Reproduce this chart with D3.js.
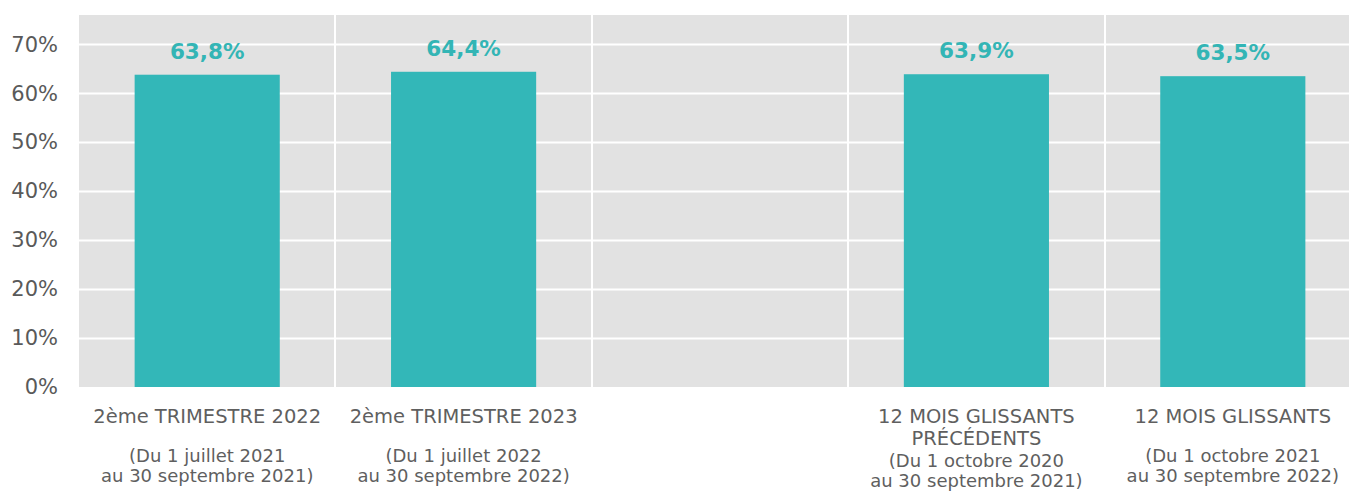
<!DOCTYPE html>
<html>
<head>
<meta charset="utf-8">
<script src="https://cdn.jsdelivr.net/npm/d3@7"></script>
<style>
  body { margin: 0; background: #fff; overflow: hidden; }
  svg { display: block; }
</style>
</head>
<body>
<svg id="chart"></svg>
<script>
// data
var categories = ["T2 2022", "T2 2023", "vide", "12M prec", "12M"];
var values = [0.638, 0.644, null, 0.639, 0.635];
var valueLabels = ["63,8%", "64,4%", "", "63,9%", "63,5%"];
var titleLines = [
  ["2ème TRIMESTRE 2022"],
  ["2ème TRIMESTRE 2023"],
  [],
  ["12 MOIS GLISSANTS", "PRÉCÉDENTS"],
  ["12 MOIS GLISSANTS"]
];
var periodLines = [
  ["(Du 1 juillet 2021", "au 30 septembre 2021)"],
  ["(Du 1 juillet 2022", "au 30 septembre 2022)"],
  [],
  ["(Du 1 octobre 2020", "au 30 septembre 2021)"],
  ["(Du 1 octobre 2021", "au 30 septembre 2022)"]
];
var yTicks = [0, 0.1, 0.2, 0.3, 0.4, 0.5, 0.6, 0.7];

var WIDTH = 1349, HEIGHT = 491,
  MARGINS = { top: 15, left: 79, bottom: 387, right: 1361 };

var vis = d3.select("#chart")
  .attr("width", WIDTH)
  .attr("height", HEIGHT);

var xRange = d3.scaleBand()
  .domain(categories)
  .range([MARGINS.left, MARGINS.right])
  .paddingInner(0)
  .paddingOuter(0);

var yRange = d3.scaleLinear()
  .domain([0, 0.76])
  .range([MARGINS.bottom, MARGINS.top]);

// grey plot background
vis.append("rect")
  .attr("x", MARGINS.left)
  .attr("y", MARGINS.top)
  .attr("width", MARGINS.right - MARGINS.left)
  .attr("height", MARGINS.bottom - MARGINS.top)
  .attr("fill", "#e2e2e2");

// horizontal grid
vis.append("g")
  .selectAll("line")
  .data(yTicks.filter(function (d) { return d > 0; }))
  .enter().append("line")
  .attr("x1", MARGINS.left)
  .attr("x2", MARGINS.right)
  .attr("y1", function (d) { return Math.round(yRange(d)) + 0.5; })
  .attr("y2", function (d) { return Math.round(yRange(d)) + 0.5; })
  .attr("stroke", "#fff")
  .attr("stroke-width", 2);

// vertical separators between the bands
vis.append("g")
  .selectAll("line")
  .data(categories.slice(1))
  .enter().append("line")
  .attr("x1", function (d) { return Math.round(xRange(d)); })
  .attr("x2", function (d) { return Math.round(xRange(d)); })
  .attr("y1", MARGINS.top)
  .attr("y2", MARGINS.bottom)
  .attr("stroke", "#fff")
  .attr("stroke-width", 2);

// y axis
var yAxis = vis.append("g")
  .attr("transform", "translate(" + (MARGINS.left - 21) + ",0)")
  .call(d3.axisLeft(yRange)
    .tickValues(yTicks)
    .tickSize(0)
    .tickPadding(0)
    .tickFormat(function (d) { return Math.round(d * 100) + "%"; }))
  .call(function (g) { g.select(".domain").remove(); });

yAxis.selectAll("text")
  .attr("fill", "#595959")
  .style("font-family", "Verdana, 'DejaVu Sans', sans-serif")
  .style("font-size", "21px");

// bars
var barW = xRange.bandwidth() * 0.566;
var idx = d3.range(categories.length).filter(function (i) { return values[i] != null; });

vis.append("g")
  .selectAll("rect")
  .data(idx)
  .enter().append("rect")
  .attr("x", function (i) { return xRange(categories[i]) + (xRange.bandwidth() - barW) / 2; })
  .attr("y", function (i) { return yRange(values[i]); })
  .attr("width", barW)
  .attr("height", function (i) { return yRange(0) - yRange(values[i]); })
  .attr("fill", "#33b7b8");

// value labels
vis.append("g")
  .selectAll("text")
  .data(idx)
  .enter().append("text")
  .attr("x", function (i) { return xRange(categories[i]) + xRange.bandwidth() / 2; })
  .attr("y", function (i) { return yRange(values[i]) - 16; })
  .attr("text-anchor", "middle")
  .attr("fill", "#33b5b5")
  .style("font-family", "Verdana, 'DejaVu Sans', sans-serif")
  .style("font-weight", "bold")
  .style("font-size", "21.5px")
  .text(function (i) { return valueLabels[i]; });

// category labels
var cat = vis.append("g")
  .selectAll("g")
  .data(idx)
  .enter().append("g")
  .attr("transform", function (i) {
    return "translate(" + (xRange(categories[i]) + xRange.bandwidth() / 2) + ",0)";
  });

cat.each(function (i) {
  var g = d3.select(this);
  titleLines[i].forEach(function (t, k) {
    g.append("text")
      .attr("y", 423 + k * 21.5)
      .attr("text-anchor", "middle")
      .attr("fill", "#5f5f5f")
      .style("font-family", "Verdana, 'DejaVu Sans', sans-serif")
      .style("font-size", "19.5px")
      .text(t);
  });
  var py = titleLines[i].length > 1 ? 466.7 : 461.7;
  periodLines[i].forEach(function (t, k) {
    g.append("text")
      .attr("y", py + k * 20.7)
      .attr("text-anchor", "middle")
      .attr("fill", "#5f5f5f")
      .style("font-family", "Verdana, 'DejaVu Sans', sans-serif")
      .style("font-size", "18px")
      .text(t);
  });
});
</script>
</body>
</html>
